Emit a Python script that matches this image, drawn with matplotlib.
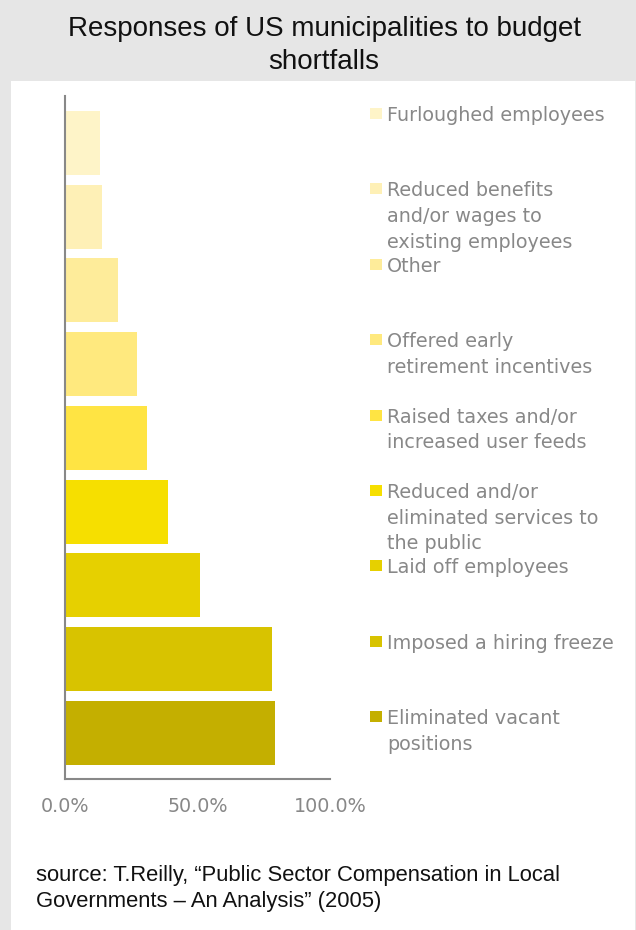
import matplotlib
matplotlib.use("Agg")
import matplotlib.pyplot as plt
from matplotlib.patches import Rectangle
import numpy as np

categories = [
    "Furloughed employees",
    "Reduced benefits\nand/or wages to\nexisting employees",
    "Other",
    "Offered early\nretirement incentives",
    "Raised taxes and/or\nincreased user feeds",
    "Reduced and/or\neliminated services to\nthe public",
    "Laid off employees",
    "Imposed a hiring freeze",
    "Eliminated vacant\npositions",
]
values = [13.2, 14.0, 20.0, 27.2, 30.9, 38.9, 50.9, 78.1, 79.2]
colors = ["#FEF4C8", "#FEF0B6", "#FEEC9A", "#FFE97E", "#FFE443",
          "#F6DF00", "#E6D000", "#D8C300", "#C4AF00"]
xticks = [0, 50, 100]
xticklabels = ["0.0%", "50.0%", "100.0%"]
title_lines = ["Responses of US municipalities to budget", "shortfalls"]
source_lines = ["source: T.Reilly, \u201cPublic Sector Compensation in Local",
                "Governments \u2013 An Analysis\u201d (2005)"]

W, H = 636, 930
fig = plt.figure(figsize=(W / 100, H / 100), dpi=100, facecolor="#e6e6e6")

def fx(x):
    return x / W

def fy(y):
    return 1 - y / H

# white panel
fig.patches.append(Rectangle((fx(11), 0), fx(624), fy(81), transform=fig.transFigure,
                             facecolor="white", edgecolor="none", zorder=-10))

ax = fig.add_axes([fx(65), fy(779), fx(330) - fx(65), fy(96) - fy(779)])
ax.set_facecolor("none")
ax.set_zorder(5)
ypos = np.arange(len(values))
ax.barh(ypos, values, height=0.868, color=colors, edgecolor="none")
ax.set_xlim(0, 100)
ax.set_ylim(8.624, -0.637)
ax.set_yticks([])
ax.set_xticks(xticks)
ax.set_xticklabels(xticklabels, fontsize=13.8, color="#888888", family="DejaVu Sans")
ax.tick_params(axis="x", length=0, pad=13)
for s in ["top", "right"]:
    ax.spines[s].set_visible(False)
for s in ["left", "bottom"]:
    ax.spines[s].set_color("#888888")
    ax.spines[s].set_linewidth(1.5)

# legend entries
base0 = 121
step = 75.4
lstep = 25.7
for i, (lab, c) in enumerate(zip(categories, colors)):
    b = base0 + i * step
    fig.patches.append(Rectangle((fx(370), fy(b - 2)), fx(12), fy(0) - fy(11),
                                 transform=fig.transFigure, facecolor=c, edgecolor="none"))
    for j, line in enumerate(lab.split("\n")):
        fig.text(fx(387), fy(b + j * lstep), line, fontsize=13.8, color="#888888",
                 family="DejaVu Sans", va="baseline", ha="left")

for j, line in enumerate(title_lines):
    fig.text(fx(324), fy(36 + j * 33), line, fontsize=20, color="#111111",
             family="Liberation Sans", ha="center", va="baseline")
for j, line in enumerate(source_lines):
    fig.text(fx(36), fy(881 + j * 26), line, fontsize=15.8, color="#111111",
             family="Liberation Sans", ha="left", va="baseline")

fig.savefig("out.png", dpi=100, facecolor=fig.get_facecolor())
